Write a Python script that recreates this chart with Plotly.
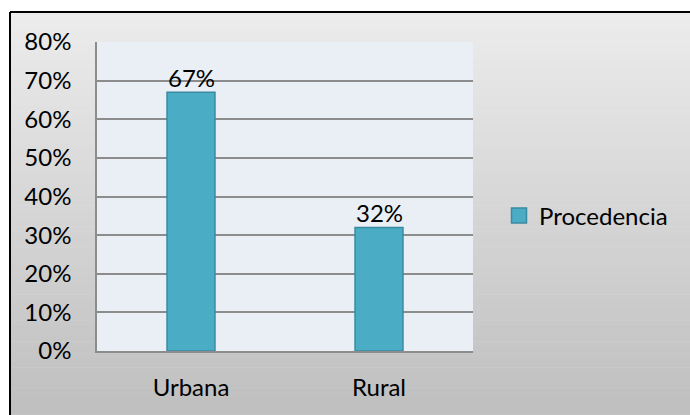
import plotly.graph_objects as go

categories = ["Urbana", "Rural"]
values = [0.67, 0.32]
series_name = "Procedencia"
tick_vals = [0, 0.1, 0.2, 0.3, 0.4, 0.5, 0.6, 0.7, 0.8]
tick_text = ["0%", "10%", "20%", "30%", "40%", "50%", "60%", "70%", "80%"]

W, H = 690, 415
# plot area in window pixels: x 97..473, y 42..351
L, T = 97, 42
R = W - 473
B = H - 351
pw, ph = W - L - R, H - T - B

def px_x(px):
    return (px - L) / pw

def px_y(py):
    return (H - B - py) / ph

FONT = "Lato"
FS = 24
bar_fill = "#4BACC6"
bar_line = "#3A8AA1"

fig = go.Figure()
fig.add_trace(go.Bar(
    x=categories, y=values, name=series_name,
    marker=dict(color=bar_fill, line=dict(color=bar_line, width=1.5)),
    showlegend=False, hoverinfo="skip",
))
# legend entry
fig.add_trace(go.Scatter(
    x=[None], y=[None], mode="markers", name=series_name,
    marker=dict(symbol="square", size=15, color=bar_fill, line=dict(color=bar_line, width=1.5)),
))

annotations = [
    dict(x=c, y=v, xref="x", yref="y", text=f"{round(v * 100)}%", showarrow=False,
         yanchor="bottom", yshift=-2, font=dict(family=FONT, size=FS, color="#000"))
    for c, v in zip(categories, values)
]

shapes = []
# gradient background
top_py, bot_py = 12, 430
n = 80
c_top, c_bot = 236, 189
for i in range(n):
    y0p = top_py + (bot_py - top_py) * i / n
    y1p = top_py + (bot_py - top_py) * (i + 1) / n
    t = (i + 0.5) / n
    c = round(c_top + (c_bot - c_top) * t)
    shapes.append(dict(type="rect", xref="paper", yref="paper",
                       x0=px_x(10), x1=px_x(710), y0=px_y(y0p), y1=px_y(y1p + 0.5),
                       fillcolor=f"rgb({c},{c},{c})", line=dict(width=0), layer="below"))
# plot area background
shapes.append(dict(type="rect", xref="paper", yref="paper", x0=0, x1=1, y0=0, y1=1,
                   fillcolor="#E9EFF4", line=dict(width=0), layer="below"))
# outer border
shapes.append(dict(type="line", xref="paper", yref="paper",
                   x0=px_x(10), x1=px_x(710), y0=px_y(12), y1=px_y(12),
                   line=dict(color="#000", width=2), layer="above"))
shapes.append(dict(type="line", xref="paper", yref="paper",
                   x0=px_x(10), x1=px_x(10), y0=px_y(12), y1=px_y(430),
                   line=dict(color="#000", width=2), layer="above"))

fig.update_layout(
    width=W, height=H,
    margin=dict(l=L, r=R, t=T, b=B),
    paper_bgcolor="white", plot_bgcolor="rgba(0,0,0,0)",
    bargap=0.745,
    shapes=shapes,
    annotations=annotations,
    font=dict(family=FONT, size=FS, color="#000"),
    showlegend=True,
    hovermode=False,
    legend=dict(x=px_x(499), y=px_y(216), xanchor="left", yanchor="middle",
                bgcolor="rgba(0,0,0,0)", font=dict(family=FONT, size=FS, color="#000"),
                itemwidth=30, tracegroupgap=0),
    xaxis=dict(showgrid=False, showline=True, linecolor="#8C8C8C", linewidth=1.5,
               ticks="", ticklabelstandoff=14, tickfont=dict(family=FONT, size=FS)),
    yaxis=dict(range=[0, 0.8], tickvals=tick_vals, ticktext=tick_text,
               showgrid=True, gridcolor="#8C8C8C", gridwidth=1.5,
               showline=True, linecolor="#8C8C8C", linewidth=1.5,
               zeroline=False, ticks="", ticklabelstandoff=19,
               tickfont=dict(family=FONT, size=FS)),
)

fig.write_html(
    "out.html",
    config={"displayModeBar": False},
    post_script="document.body.style.margin='0';document.body.style.overflow='hidden';",
)
